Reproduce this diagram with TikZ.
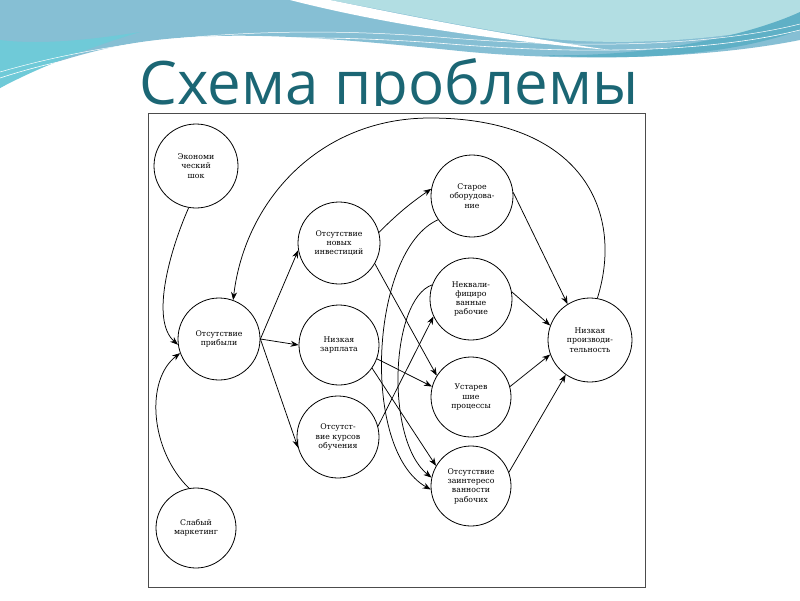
\documentclass[tikz,border=0pt]{standalone}
\usepackage{fontspec}
\setmainfont{DejaVu Serif}
\newfontfamily\titlefont{Open Sans}
\usetikzlibrary{arrows.meta}
\definecolor{wblue}{HTML}{86BFD4}
\definecolor{wcyan}{HTML}{6FCAD8}
\definecolor{wlight}{HTML}{B2DEE3}
\definecolor{wteal}{HTML}{5FB0C6}
\definecolor{titlecol}{HTML}{1B6674}
\begin{document}
\begin{tikzpicture}[x=1pt,y=-1pt,
  cnode/.style={circle,draw=black,line width=0.8pt,minimum size=82pt,inner sep=0pt,align=center,font=\fontsize{7.8}{9.3}\selectfont},
  arr/.style={draw=black,line width=0.75pt,-{Stealth[length=8pt,width=6pt]}}]
\useasboundingbox (0,0) rectangle (800,600);
\fill[white] (0,0) rectangle (800,600);
% background waves
\fill[wblue] (0,0) -- (800,0) -- (800,40) .. controls (700,60) and (560,62) .. (450,50) .. controls (330,38) and (200,25) .. (100,50) .. controls (50,62) and (20,75) .. (0,88) -- cycle;
\fill[wcyan] (0,40) .. controls (40,45) and (90,40) .. (140,32) .. controls (80,50) and (30,72) .. (0,88) -- cycle;
\fill[wlight] (330,0) -- (800,0) -- (800,22) .. controls (720,42) and (600,48) .. (520,35) .. controls (450,24) and (385,10) .. (330,0) -- cycle;
\fill[white] (290,0) .. controls (360,18) and (465,38) .. (610,50) .. controls (485,32) and (390,12) .. (330,0) -- cycle;
\fill[wteal] (540,55) .. controls (650,58) and (750,35) .. (800,12) -- (800,30) .. controls (740,52) and (650,62) .. (540,55) -- cycle;
\draw[white,line width=0.6pt] (0,78) .. controls (100,45) and (250,28) .. (450,44) .. controls (600,56) and (720,50) .. (800,30);
\draw[white,line width=0.5pt] (0,72) .. controls (110,40) and (260,22) .. (450,38) .. controls (600,50) and (720,44) .. (800,24);
% title
\node[font=\titlefont\fontsize{60}{60}\selectfont,text=titlecol,anchor=base,inner sep=0pt] (title) at (389,104) {Схема проблемы};
% diagram area
\fill[white] (140,106) rectangle (650,592);
\draw[line width=0.7pt,draw=black!70] (148,113) rectangle (645,587);
% nodes
\node[cnode,minimum size=84pt] (shock) at (196,166) {Экономи\\ческий\\шок};
\node[cnode] (invest) at (339,243) {Отсутствие\\новых\\инвестиций};
\node[cnode] (profit) at (219,339) {Отсутствие\\прибыли};
\node[cnode,minimum size=80pt] (wage) at (339,345) {Низкая\\зарплата};
\node[cnode] (courses) at (338,437) {Отсутст-\\вие курсов\\обучения};
\node[cnode,minimum size=80pt] (market) at (196,528) {Слабый\\маркетинг};
\node[cnode] (equip) at (472,196) {Старое\\оборудова-\\ние};
\node[cnode] (unqual) at (471,299) {Неквали-\\фициро\\ванные\\рабочие};
\node[cnode,minimum size=80pt] (process) at (471,397) {Устарев\\шие\\процессы};
\node[cnode,minimum size=80pt] (engage) at (471,486) {Отсутствие\\заинтересо\\ванности\\рабочих};
\node[cnode,minimum size=84pt] (prod) at (590,340) {Низкая\\производи-\\тельность};
% connectors
\draw[arr] (shock.260) .. controls (170,250) and (150,320) .. (profit.188);
\draw[arr] (market.100) .. controls (150,450) and (145,380) .. (profit.200);
\draw[arr] (prod.80) .. controls (625,210) and (580,118) .. (430,118) .. controls (320,118) and (245,200) .. (profit.70);
\draw[arr] (profit.east) -- (invest.190);
\draw[arr] (profit.east) -- (wage.west);
\draw[arr] (profit.east) -- (courses.195);
\draw[arr] (invest.15) to[bend left=5] (equip.170);
\draw[arr] (invest.-30) -- (process.148);
\draw[arr] (wage.-20) -- (process.165);
\draw[arr] (wage.-35) -- (engage.150);
\draw[arr] (courses.15) -- (unqual.205);
\draw[arr] (equip.215) .. controls (370,250) and (360,450) .. (engage.185);
\draw[arr] (unqual.160) .. controls (390,300) and (385,440) .. (engage.168);
\draw[arr] (equip.5) -- (prod.122);
\draw[arr] (unqual.10) -- (prod.160);
\draw[arr] (process.15) -- (prod.200);
\draw[arr] (engage.20) -- (prod.235);
\end{tikzpicture}
\end{document}
